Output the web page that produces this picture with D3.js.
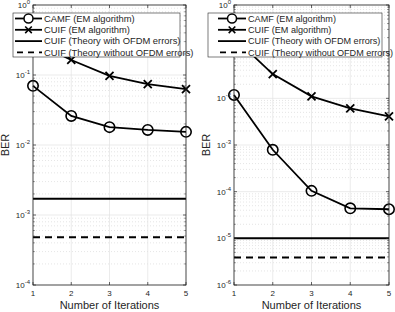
<!DOCTYPE html>
<html>
<head>
<meta charset="utf-8">
<script src="https://cdn.jsdelivr.net/npm/d3@7"></script>
<style>
  body { margin: 0; background: #fff; }
  text { font-family: "Liberation Sans", Arial, sans-serif; fill: #262626; }
</style>
</head>
<body>
<svg id="chart" width="395" height="312"></svg>
<script>
const iterations = [1, 2, 3, 4, 5];
const xTicks = [1, 2, 3, 4, 5];

// left panel
const camfLeft = [0.07, 0.026, 0.018, 0.0164, 0.0154];
const cuifLeft = [0.3, 0.164, 0.097, 0.074, 0.063];
const theoryWithLeft = 0.0017;
const theoryWithoutLeft = 0.00048;
const yDomainLeft = [1e-4, 1];

// right panel
const camfRight = [0.0118, 0.00079, 0.000104, 0.000044, 0.000042];
const cuifRight = [0.2, 0.033, 0.011, 0.0061, 0.0041];
const theoryWithRight = 1e-5;
const theoryWithoutRight = 3.9e-6;
const yDomainRight = [1e-6, 1];

const legendLabels = [
    'CAMF (EM algorithm)',
    'CUIF (EM algorithm)',
    'CUIF (Theory with OFDM errors)',
    'CUIF (Theory without OFDM errors)'
];

const svg = d3.select('#chart');

function drawPanel(opt) {
    const g = svg.append('g');
    const x = d3.scaleLinear().domain([1, 5]).range([opt.left, opt.right]);
    const y = d3.scaleLog().domain(opt.yDomain).range([opt.bottom, opt.top]);

    const lo = Math.round(Math.log10(opt.yDomain[0]));
    const hi = Math.round(Math.log10(opt.yDomain[1]));
    const decades = d3.range(lo, hi + 1);

    // minor grid (dotted)
    decades.slice(0, -1).forEach(p => {
        for (let m = 2; m <= 9; m++) {
            const v = m * Math.pow(10, p);
            g.append('line')
                .attr('x1', opt.left).attr('x2', opt.right)
                .attr('y1', y(v)).attr('y2', y(v))
                .attr('stroke', '#d4d4d4').attr('stroke-width', 0.6)
                .attr('stroke-dasharray', '1,2');
        }
    });
    // major grid
    decades.forEach(p => {
        g.append('line')
            .attr('x1', opt.left).attr('x2', opt.right)
            .attr('y1', y(Math.pow(10, p))).attr('y2', y(Math.pow(10, p)))
            .attr('stroke', '#e3e3e3').attr('stroke-width', 0.7);
    });
    xTicks.forEach(t => {
        g.append('line')
            .attr('x1', x(t)).attr('x2', x(t))
            .attr('y1', opt.top).attr('y2', opt.bottom)
            .attr('stroke', '#e3e3e3').attr('stroke-width', 0.7);
    });

    // theory lines
    g.append('line')
        .attr('x1', x(1)).attr('x2', x(5))
        .attr('y1', y(opt.theoryWith)).attr('y2', y(opt.theoryWith))
        .attr('stroke', '#000').attr('stroke-width', 2);
    g.append('line')
        .attr('x1', x(1)).attr('x2', x(5))
        .attr('y1', y(opt.theoryWithout)).attr('y2', y(opt.theoryWithout))
        .attr('stroke', '#000').attr('stroke-width', 2)
        .attr('stroke-dasharray', '7,5');

    const line = d3.line().x((d, i) => x(iterations[i])).y(d => y(d));

    g.append('path').datum(opt.cuif)
        .attr('d', line).attr('fill', 'none')
        .attr('stroke', '#000').attr('stroke-width', 1.8);
    opt.cuif.forEach((v, i) => {
        const cx = x(iterations[i]), cy = y(v), s = 4;
        g.append('path')
            .attr('d', `M${cx - s},${cy - s}L${cx + s},${cy + s}M${cx - s},${cy + s}L${cx + s},${cy - s}`)
            .attr('stroke', '#000').attr('stroke-width', 1.8);
    });

    g.append('path').datum(opt.camf)
        .attr('d', line).attr('fill', 'none')
        .attr('stroke', '#000').attr('stroke-width', 1.8);
    g.selectAll(null).data(opt.camf).enter().append('circle')
        .attr('cx', (d, i) => x(iterations[i]))
        .attr('cy', d => y(d))
        .attr('r', 5.2)
        .attr('fill', 'none').attr('stroke', '#000').attr('stroke-width', 1.6);

    // axes box
    g.append('rect')
        .attr('x', opt.left).attr('y', opt.top)
        .attr('width', opt.right - opt.left).attr('height', opt.bottom - opt.top)
        .attr('fill', 'none').attr('stroke', '#262626').attr('stroke-width', 0.8);

    // x ticks
    xTicks.forEach(t => {
        g.append('line').attr('x1', x(t)).attr('x2', x(t))
            .attr('y1', opt.bottom).attr('y2', opt.bottom - 3)
            .attr('stroke', '#262626').attr('stroke-width', 0.7);
        g.append('line').attr('x1', x(t)).attr('x2', x(t))
            .attr('y1', opt.top).attr('y2', opt.top + 3)
            .attr('stroke', '#262626').attr('stroke-width', 0.7);
        g.append('text')
            .attr('x', x(t)).attr('y', opt.bottom + 11)
            .attr('text-anchor', 'middle')
            .style('font-size', '8px')
            .text(t);
    });

    // y ticks
    decades.forEach(p => {
        const yy = y(Math.pow(10, p));
        [[opt.left, opt.left + 3], [opt.right, opt.right - 3]].forEach(([a, b]) => {
            g.append('line').attr('x1', a).attr('x2', b)
                .attr('y1', yy).attr('y2', yy)
                .attr('stroke', '#262626').attr('stroke-width', 0.7);
        });
        const t = g.append('text')
            .attr('x', opt.left - 3).attr('y', yy + 3)
            .attr('text-anchor', 'end')
            .style('font-size', '8px');
        t.append('tspan').text('10');
        t.append('tspan').attr('dy', -4).style('font-size', '6px').text(p);
    });
    decades.slice(0, -1).forEach(p => {
        for (let m = 2; m <= 9; m++) {
            const yy = y(m * Math.pow(10, p));
            [[opt.left, opt.left + 1.8], [opt.right, opt.right - 1.8]].forEach(([a, b]) => {
                g.append('line').attr('x1', a).attr('x2', b)
                    .attr('y1', yy).attr('y2', yy)
                    .attr('stroke', '#262626').attr('stroke-width', 0.5);
            });
        }
    });

    // axis labels
    g.append('text')
        .attr('x', (opt.left + opt.right) / 2).attr('y', opt.bottom + 24)
        .attr('text-anchor', 'middle')
        .style('font-size', '11px')
        .text('Number of Iterations');
    g.append('text')
        .attr('transform', `translate(${opt.left - 24},${(opt.top + opt.bottom) / 2}) rotate(-90)`)
        .attr('text-anchor', 'middle')
        .style('font-size', '11px')
        .text('BER');

    // legend
    const lg = g.append('g');
    lg.append('rect')
        .attr('x', opt.legX).attr('y', 13)
        .attr('width', opt.legW).attr('height', 44)
        .attr('fill', '#fff').attr('stroke', '#262626').attr('stroke-width', 0.6);
    legendLabels.forEach((lab, i) => {
        const ly = 18.5 + i * 11.3;
        const x0 = opt.sampleX0, x1 = opt.sampleX1;
        const sample = lg.append('line')
            .attr('x1', x0).attr('x2', x1).attr('y1', ly).attr('y2', ly)
            .attr('stroke', '#000').attr('stroke-width', 1.8);
        if (i === 3) sample.attr('stroke-dasharray', '6,5').attr('x1', x0 + 2);
        const mx = (x0 + x1) / 2;
        if (i === 0) {
            lg.append('circle').attr('cx', mx).attr('cy', ly).attr('r', 4.5)
                .attr('fill', '#fff').attr('stroke', '#000').attr('stroke-width', 1.5);
        }
        if (i === 1) {
            const s = 3.3;
            lg.append('path')
                .attr('d', `M${mx - s},${ly - s}L${mx + s},${ly + s}M${mx - s},${ly + s}L${mx + s},${ly - s}`)
                .attr('stroke', '#000').attr('stroke-width', 1.6);
        }
        lg.append('text')
            .attr('x', x1 + 2).attr('y', ly + 3.2)
            .style('font-size', opt.legFont)
            .text(lab);
    });
}

drawPanel({
    left: 33, right: 186, top: 5, bottom: 285,
    yDomain: yDomainLeft, camf: camfLeft, cuif: cuifLeft,
    theoryWith: theoryWithLeft, theoryWithout: theoryWithoutLeft,
    legX: 13, legW: 167, sampleX0: 15, sampleX1: 42, legFont: '9.4px'
});
drawPanel({
    left: 234, right: 389, top: 5, bottom: 285,
    yDomain: yDomainRight, camf: camfRight, cuif: cuifRight,
    theoryWith: theoryWithRight, theoryWithout: theoryWithoutRight,
    legX: 208, legW: 174, sampleX0: 218, sampleX1: 246, legFont: '9.1px'
});
</script>
</body>
</html>
